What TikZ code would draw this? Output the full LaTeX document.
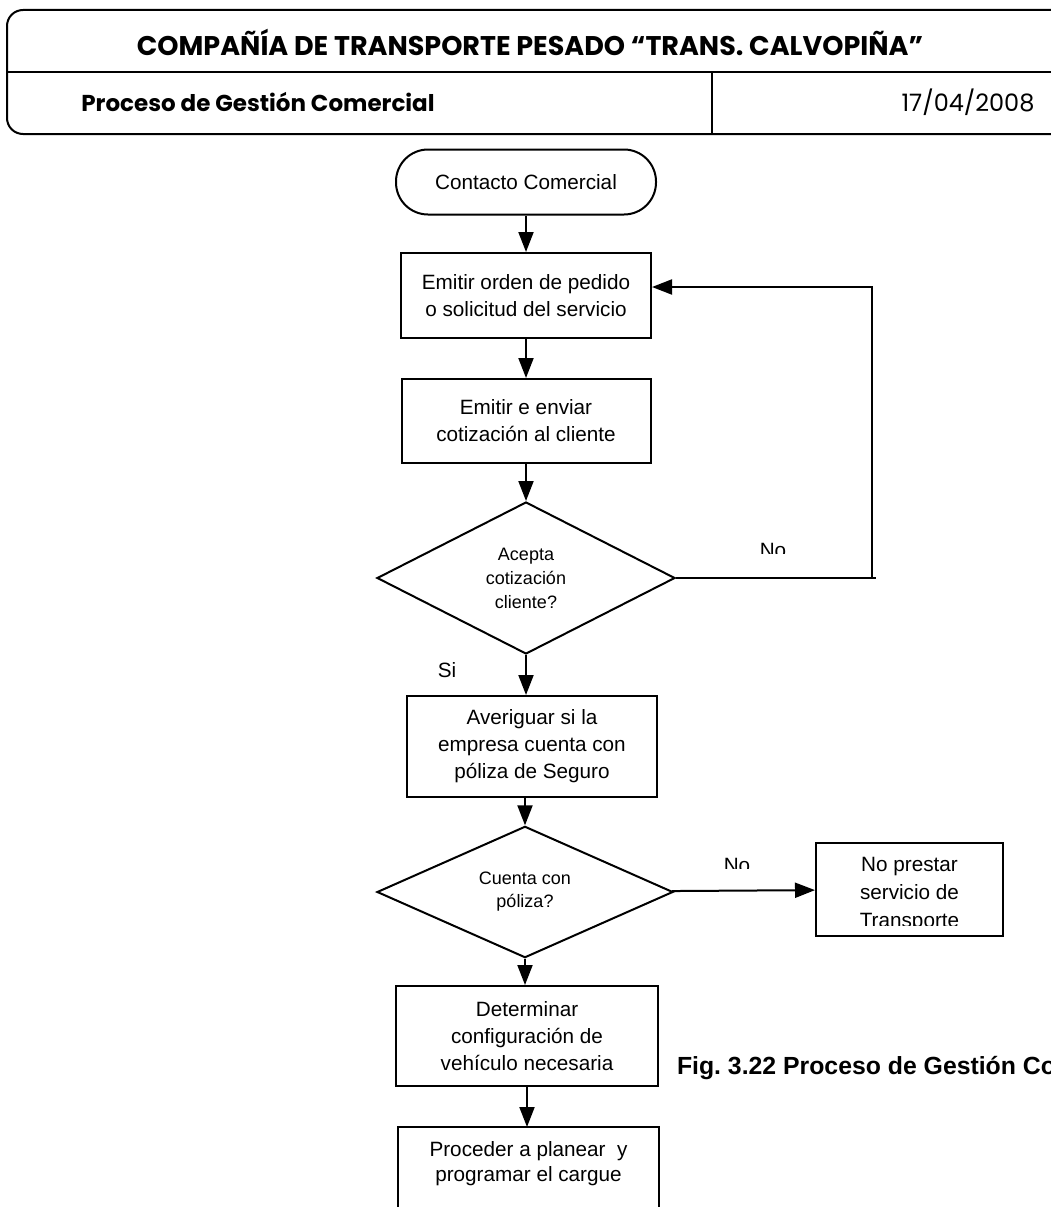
\documentclass[tikz,border=0pt]{standalone}
\usepackage{fontspec}
\setmainfont{Liberation Sans}
\newfontfamily\gothic{Poppins}
\usetikzlibrary{arrows.meta,shapes.geometric}
\frenchspacing

\begin{document}
\begin{tikzpicture}[x=1pt,y=-1pt,line width=2pt,
  flow/.style={-{Triangle[length=20pt,width=15pt]}},
  boxtext/.style={font=\fontsize{20.7}{27}\selectfont, align=center, inner sep=0pt},
  proc/.style={draw, rectangle, boxtext},
  term/.style={draw, rounded corners=32pt, boxtext, minimum width=260pt, minimum height=65pt},
  decision/.style={draw, diamond, boxtext, font=\fontsize{18}{24}\selectfont},
  lbl/.style={font=\fontsize{20.7}{24}\selectfont, inner sep=0pt, anchor=base},
  headbold/.style={font=\gothic\bfseries\fontsize{27}{30}\selectfont, inner sep=0pt},
]
\useasboundingbox (0,0) rectangle (1051,1207);
\clip (0,0) rectangle (1051,1207);

% header block (runs past the right edge)
\draw[rounded corners=16pt] (7,10) rectangle (1100,134);
\draw (7,72) -- (1100,72);
\draw (712,72) -- (712,134);
\node[headbold] (title) at (530,42) {COMPAÑÍA DE TRANSPORTE PESADO “TRANS. CALVOPIÑA”};
\node[headbold, font=\gothic\bfseries\fontsize{23}{28}\selectfont] (proceso) at (258,102) {Proceso de Gestión Comercial};
\node[font=\gothic\fontsize{24}{28}\selectfont, inner sep=0pt] (fecha) at (968,102) {17/04/2008};

% flowchart
\node[term] (contacto) at (526,182) {Contacto Comercial};
\node[proc, minimum width=250pt, minimum height=85pt] (orden) at (526,295.5) {Emitir orden de pedido\\o solicitud del servicio};
\node[proc, minimum width=249pt, minimum height=84pt] (cotiz) at (526,421) {Emitir e enviar\\cotización al cliente};
\node[decision, minimum width=298pt, minimum height=152pt] (acepta) at (526,578) {Acepta\\cotización\\cliente?};
\node[proc, minimum width=250pt, minimum height=101pt] (averiguar) at (532,746.5) {Averiguar si la\\empresa cuenta con\\póliza de Seguro};
\node[decision, minimum width=296pt, minimum height=111pt, font=\fontsize{18}{23}\selectfont] (poliza) at (525,892) {Cuenta con\\póliza?};
\node[proc, minimum width=187pt, minimum height=93pt] (noprestar) at (909.5,889.5) {};
\begin{scope}
  \clip (816,843) rectangle (1003,925);
  \node[boxtext, font=\fontsize{20.7}{28}\selectfont] (noprestartxt) at (909.5,895) {No prestar\\servicio de\\Transporte};
\end{scope}
\node[proc, minimum width=262pt, minimum height=100pt] (config) at (527,1036) {Determinar\\configuración de\\vehículo necesaria};
\draw (398,1230) |- (659,1127) -- (659,1230);
\coordinate (planeartop) at (528.5,1127);
\node[boxtext, font=\fontsize{20.7}{25}\selectfont] (planear) at (528.5,1164) {Proceder a planear \ y\\programar el cargue};

% connectors
\draw[flow] (contacto) -- (orden);
\draw[flow] (orden) -- (cotiz);
\draw[flow] (cotiz) -- (acepta);
\draw[flow] (acepta.south) -- (acepta.south |- averiguar.north);
\draw[flow] (averiguar.south -| poliza.north) -- (poliza.north);
\draw[flow] (poliza) -- (noprestar);
\draw[flow] (poliza.south) -- (poliza.south |- config.north);
\draw[flow] (config.south) -- (config.south |- planeartop);
\coordinate (loopdown) at (872,578);
\draw (acepta.east) -- (876,578);
\draw[flow] (loopdown) -- (872,287) -- (orden.east |- 0,287);

% branch labels
\node[lbl] (si) at (447,677) {Si};
\begin{scope}
  \clip (700,530) rectangle (850,553);
  \node[lbl] (no1) at (773,557) {No};
\end{scope}
\begin{scope}
  \clip (690,840) rectangle (800,868);
  \node[lbl] (no2) at (737,872) {No};
\end{scope}

% caption
\node[font=\bfseries\fontsize{24.8}{28}\selectfont, inner sep=0pt, anchor=base west] (caption) at (676,1074) {Fig. 3.22 Proceso de Gestión Comercial};
\end{tikzpicture}
\end{document}
